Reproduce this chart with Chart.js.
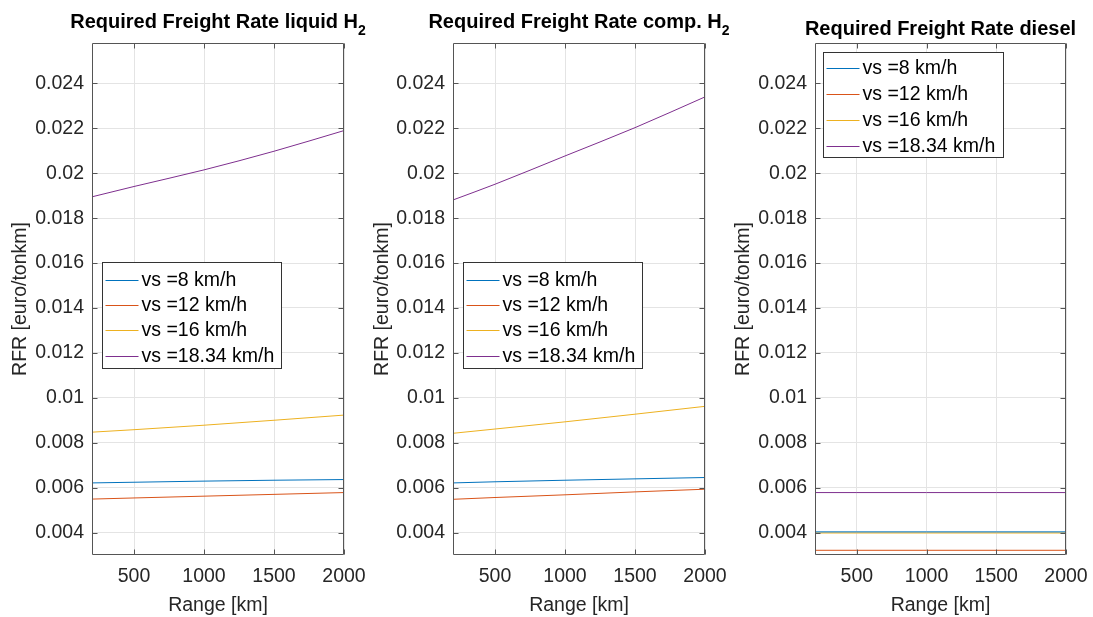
<!DOCTYPE html>
<html><head><meta charset="utf-8">
<script src="https://cdn.jsdelivr.net/npm/chart.js@4.4.0/dist/chart.umd.min.js"></script>
<style>
body{margin:0;background:#fff;width:1093px;height:617px;overflow:hidden;position:relative}
canvas{position:absolute;top:0}
</style>
</head><body>
<canvas id="c1" width="370" height="617" style="left:0px"></canvas>
<canvas id="c2" width="370" height="617" style="left:362px"></canvas>
<canvas id="c3" width="370" height="617" style="left:723px"></canvas>
<script>
// ---- data ----
const RANGE_KM = [200, 500, 1000, 1500, 2000];
const SPEED_LABELS = ['vs =8 km/h', 'vs =12 km/h', 'vs =16 km/h', 'vs =18.34 km/h'];
const SERIES_COLORS = ['#0072BD', '#D95319', '#EDB120', '#7E2F8E'];

const LIQ_VS8  = [0.00621, 0.00624, 0.00629, 0.00633, 0.00636];
const LIQ_VS12 = [0.00549, 0.00554, 0.00562, 0.00570, 0.00578];
const LIQ_VS16 = [0.00847, 0.00858, 0.00878, 0.00900, 0.00923];
const LIQ_VS18 = [0.01895, 0.01941, 0.02015, 0.02098, 0.02190];

const COMP_VS8  = [0.00621, 0.00626, 0.00633, 0.00639, 0.00645];
const COMP_VS12 = [0.00548, 0.00556, 0.00568, 0.00581, 0.00593];
const COMP_VS16 = [0.00842, 0.00861, 0.00893, 0.00927, 0.00962];
const COMP_VS18 = [0.01881, 0.01951, 0.02077, 0.02203, 0.02340];

const DIES_VS8  = [0.00403, 0.00403, 0.00403, 0.00403, 0.00403];
const DIES_VS12 = [0.00321, 0.00321, 0.00321, 0.00321, 0.00321];
const DIES_VS16 = [0.00398, 0.00398, 0.00398, 0.00398, 0.00398];
const DIES_VS18 = [0.00578, 0.00578, 0.00578, 0.00578, 0.00578];

const Y_TICKS = [0.004, 0.006, 0.008, 0.010, 0.012, 0.014, 0.016, 0.018, 0.020, 0.022, 0.024];
const Y_TICK_LABELS = ['0.004','0.006','0.008','0.01','0.012','0.014','0.016','0.018','0.02','0.022','0.024'];
const X_TICKS = [500, 1000, 1500, 2000];
const X_TICK_LABELS = ['500', '1000', '1500', '2000'];

const TITLES = [
  ['Required Freight Rate liquid H', '2'],
  ['Required Freight Rate comp. H', '2'],
  ['Required Freight Rate diesel', '']
];
const X_TITLE = 'Range [km]';
const Y_TITLE = 'RFR [euro/tonkm]';

// ---- rendering ----
const FONT = "'Liberation Sans', Arial, Helvetica, sans-serif";

const boxPlugin = {
  id: 'mbox',
  afterDatasetsDraw(chart) {
    const ctx = chart.ctx, ca = chart.chartArea;
    const ys = chart.scales.y, xs = chart.scales.x;
    ctx.save();
    ctx.strokeStyle = '#555555';
    ctx.lineWidth = 1;
    const L = Math.round(ca.left) + 0.5, R = Math.round(ca.right) - 0.5;
    const T = Math.round(ca.top) + 0.5, B = Math.round(ca.bottom) - 0.5;
    ctx.beginPath();
    ctx.rect(L, T, R - L, B - T);
    Y_TICKS.forEach(v => {
      const p = Math.round(ys.getPixelForValue(v)) + 0.5;
      ctx.moveTo(L, p); ctx.lineTo(L + 5, p);
      ctx.moveTo(R, p); ctx.lineTo(R - 5, p);
    });
    X_TICKS.forEach(v => {
      const p = Math.round(xs.getPixelForValue(v)) + 0.5;
      ctx.moveTo(p, B); ctx.lineTo(p, B - 5);
      ctx.moveTo(p, T); ctx.lineTo(p, T + 5);
    });
    ctx.stroke();
    ctx.restore();
  },
  afterDraw(chart) {
    const o = chart.options.plugins.mbox;
    const ctx = chart.ctx, ca = chart.chartArea;
    // title with optional subscript
    ctx.save();
    ctx.fillStyle = '#000';
    ctx.textBaseline = 'alphabetic';
    ctx.font = 'bold 20px ' + FONT;
    const main = o.title[0], sub = o.title[1];
    const w1 = ctx.measureText(main).width;
    ctx.font = 'bold 14px ' + FONT;
    const w2 = sub ? ctx.measureText(sub).width : 0;
    const cx = (ca.left + ca.right) / 2;
    const x0 = cx - (w1 + w2) / 2;
    ctx.font = 'bold 20px ' + FONT;
    ctx.textAlign = 'left';
    ctx.fillText(main, x0, o.titleY);
    if (sub) {
      ctx.font = 'bold 14px ' + FONT;
      ctx.fillText(sub, x0 + w1, o.titleY + 7.5);
    }
    // legend
    const lg = o.legend;
    const bx = Math.round(ca.left + lg.x) + 0.5, by = Math.round(ca.top + lg.y) + 0.5;
    ctx.fillStyle = '#fff';
    ctx.fillRect(bx, by, lg.w, lg.h);
    ctx.strokeStyle = '#333';
    ctx.lineWidth = 1;
    ctx.strokeRect(bx, by, lg.w, lg.h);
    ctx.font = '19.5px ' + FONT;
    ctx.textBaseline = 'middle';
    chart.data.datasets.forEach((ds, i) => {
      const ry = Math.round(by + lg.row0 + i * lg.step);
      ctx.strokeStyle = ds.borderColor;
      ctx.beginPath();
      ctx.moveTo(bx + 3, ry + 0.5);
      ctx.lineTo(bx + 36, ry + 0.5);
      ctx.stroke();
      ctx.fillStyle = '#000';
      ctx.fillText(ds.label, bx + 39, ry + 1);
    });
    ctx.restore();
  }
};

function makeChart(id, seriesArrs, title, titleY, legend, yWidth, padRight) {
  const datasets = seriesArrs.map((arr, i) => ({
    label: SPEED_LABELS[i],
    data: RANGE_KM.map((x, j) => ({ x: x, y: arr[j] })),
    borderColor: SERIES_COLORS[i],
    backgroundColor: SERIES_COLORS[i],
    borderWidth: 1,
    pointRadius: 0,
    cubicInterpolationMode: 'monotone',
    fill: false
  }));
  return new Chart(document.getElementById(id), {
    type: 'line',
    data: { datasets },
    plugins: [boxPlugin],
    options: {
      responsive: false,
      devicePixelRatio: 1,
      animation: false,
      layout: { padding: { top: 43, right: padRight, bottom: 0, left: 0 } },
      plugins: {
        legend: { display: false },
        tooltip: { enabled: false },
        title: { display: false },
        mbox: { title, titleY, legend }
      },
      scales: {
        x: {
          type: 'linear', min: 200, max: 2000,
          afterBuildTicks: s => { s.ticks = X_TICKS.map(v => ({ value: v })); },
          afterFit: s => { s.height = 62; s.paddingLeft = 0; s.paddingRight = 0; },
          ticks: {
            color: '#262626', font: { family: FONT, size: 19.5 }, padding: 10,
            maxRotation: 0, autoSkip: false,
            callback: (v, i) => X_TICK_LABELS[i]
          },
          grid: { color: '#e4e4e4', drawTicks: false },
          border: { display: false },
          title: { display: true, text: X_TITLE, color: '#262626',
                   font: { family: FONT, size: 19.5 }, padding: { top: 0, bottom: 0 } }
        },
        y: {
          type: 'linear', min: 0.003, max: 0.0258,
          afterBuildTicks: s => { s.ticks = Y_TICKS.map(v => ({ value: v })); },
          afterFit: s => { s.width = yWidth; s.paddingTop = 0; s.paddingBottom = 0; },
          ticks: {
            color: '#262626', font: { family: FONT, size: 19.5 }, padding: 8,
            autoSkip: false,
            callback: (v, i) => Y_TICK_LABELS[i]
          },
          grid: { color: '#e4e4e4', drawTicks: false },
          border: { display: false },
          title: { display: true, text: Y_TITLE, color: '#262626',
                   font: { family: FONT, size: 19.5 }, padding: { top: 9, bottom: 0 } }
        }
      }
    }
  });
}

makeChart('c1', [LIQ_VS8, LIQ_VS12, LIQ_VS16, LIQ_VS18], TITLES[0], 27.5,
  { x: 9.7, y: 219.3, w: 179, h: 106, row0: 17, step: 25.4 }, 92, 26);
makeChart('c2', [COMP_VS8, COMP_VS12, COMP_VS16, COMP_VS18], TITLES[1], 27.5,
  { x: 9.7, y: 219.3, w: 179, h: 106, row0: 17, step: 25.4 }, 91, 27);
makeChart('c3', [DIES_VS8, DIES_VS12, DIES_VS16, DIES_VS18], TITLES[2], 35.3,
  { x: 7.7, y: 8.7, w: 180, h: 105, row0: 15.5, step: 26 }, 92, 27);
</script>
</body></html>
